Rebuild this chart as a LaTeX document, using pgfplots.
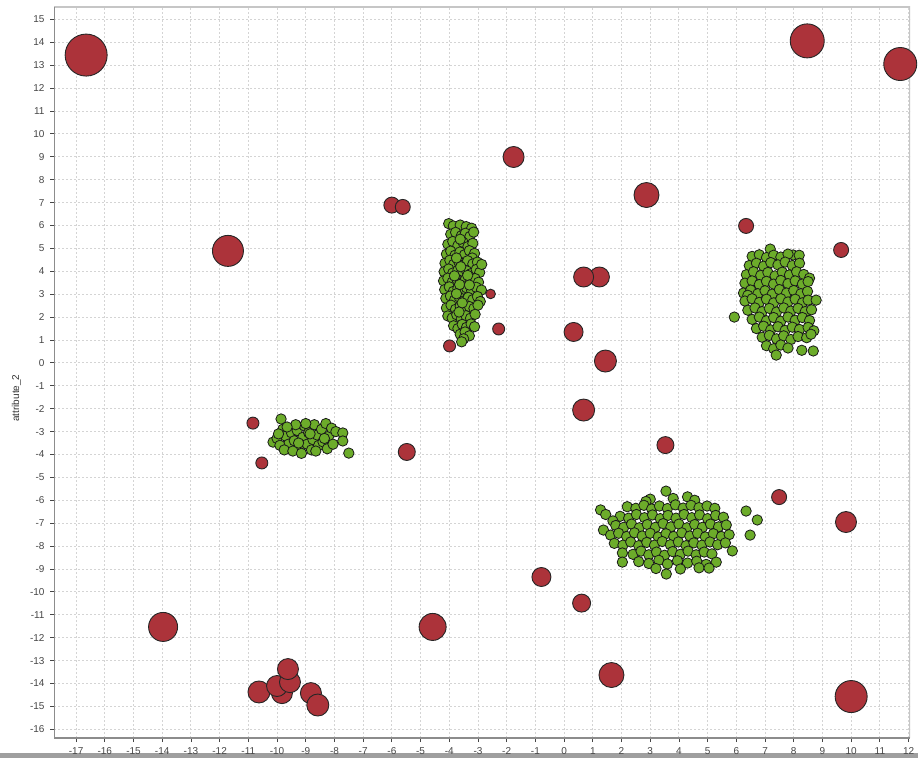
\documentclass[border=0pt]{standalone}
\usepackage{pgfplots}
\pgfplotsset{compat=1.18}
\usepackage{pgfplotstable}
\usepackage{fontspec}
\setmainfont{Liberation Sans}
\definecolor{redc}{RGB}{172,51,58}
\definecolor{greenc}{RGB}{108,172,42}
\definecolor{gridc}{RGB}{212,212,212}
\definecolor{tickc}{RGB}{70,70,70}

\pgfplotstableread{
x y r
-16.65 13.44 21
-11.71 4.89 15.5
-6.00 6.89 8
-5.62 6.81 7.5
-1.76 8.99 10.5
2.87 7.33 12.5
8.47 14.06 17
11.71 13.05 16.5
6.34 5.98 7.5
9.65 4.93 7.5
1.23 3.75 10
0.68 3.75 10
-2.56 3.01 4.8
-2.28 1.48 6
-3.99 0.74 6
0.33 1.35 9.5
1.44 0.08 11
0.68 -2.06 11
3.53 -3.59 8.5
-10.84 -2.63 6
-10.53 -4.37 6
-5.48 -3.89 8.5
7.49 -5.86 7.5
9.82 -6.95 10.5
-0.79 -9.35 9.5
0.61 -10.49 9
-4.58 -11.53 13.5
-13.97 -11.53 14.5
1.65 -13.63 12.5
10.00 -14.57 16
-10.63 -14.37 11
-9.83 -14.42 10.5
-10.00 -14.11 10.5
-9.55 -13.94 10.5
-9.62 -13.37 10.5
-8.82 -14.42 10.5
-8.58 -14.94 11
}\redtable

\pgfplotstableread{
x y
-4.02 6.08
-3.86 5.98
-3.62 6.02
-3.41 5.95
-3.22 5.88
-3.95 5.62
-3.78 5.70
-3.58 5.55
-3.44 5.66
-3.28 5.52
-3.15 5.71
-4.05 5.18
-3.88 5.30
-3.70 5.12
-3.52 5.26
-3.35 5.08
-3.18 5.22
-3.62 5.40
-4.10 4.75
-3.95 4.88
-3.80 4.70
-3.63 4.84
-3.47 4.72
-3.30 4.90
-3.12 4.78
-3.20 4.58
-4.15 4.35
-3.98 4.48
-3.85 4.30
-3.68 4.44
-3.50 4.28
-3.36 4.46
-3.18 4.32
-3.02 4.40
-3.75 4.58
-4.18 3.98
-4.02 4.10
-3.88 3.92
-3.70 4.05
-3.55 3.88
-3.40 4.02
-3.24 3.90
-3.06 4.08
-2.94 3.95
-3.60 4.20
-2.87 4.30
-4.20 3.58
-4.05 3.70
-3.90 3.52
-3.74 3.66
-3.58 3.50
-3.44 3.64
-3.28 3.55
-3.10 3.68
-2.98 3.52
-3.82 3.80
-3.36 3.82
-4.16 3.20
-4.00 3.32
-3.86 3.12
-3.70 3.26
-3.54 3.10
-3.40 3.28
-3.22 3.15
-3.06 3.30
-2.88 3.18
-3.64 3.42
-3.30 3.40
-4.12 2.82
-3.96 2.92
-3.82 2.74
-3.66 2.88
-3.50 2.70
-3.34 2.86
-3.18 2.76
-3.02 2.90
-2.92 2.68
-3.75 3.02
-4.10 2.40
-3.94 2.52
-3.78 2.34
-3.62 2.48
-3.46 2.30
-3.30 2.46
-3.14 2.38
-3.00 2.52
-3.55 2.62
-4.05 2.05
-3.90 1.96
-3.74 2.10
-3.58 1.92
-3.42 2.06
-3.26 1.95
-3.10 2.12
-3.66 2.22
-3.85 1.62
-3.70 1.50
-3.55 1.68
-3.40 1.55
-3.24 1.70
-3.12 1.58
-3.62 1.25
-3.45 1.35
-3.30 1.18
-3.50 1.05
-3.57 0.92
}\clusterA

\pgfplotstableread{
x y
7.18 4.97
7.98 4.71
8.19 4.70
6.55 4.65
6.80 4.72
7.05 4.60
7.30 4.70
7.55 4.62
7.80 4.75
6.45 4.25
6.70 4.35
6.95 4.22
7.20 4.38
7.45 4.28
7.70 4.40
7.95 4.25
8.20 4.35
6.35 3.85
6.60 3.98
6.85 3.82
7.10 3.95
7.35 3.80
7.60 3.96
7.85 3.84
8.10 3.98
8.35 3.86
8.55 3.70
6.30 3.48
6.55 3.58
6.80 3.42
7.05 3.56
7.30 3.44
7.55 3.60
7.80 3.46
8.05 3.58
8.30 3.44
8.50 3.55
6.25 3.05
6.50 3.18
6.75 3.02
7.00 3.15
7.25 3.00
7.50 3.20
7.75 3.05
8.00 3.16
8.25 3.02
8.48 3.12
6.40 2.95
6.30 2.70
6.55 2.80
6.80 2.64
7.05 2.78
7.30 2.62
7.55 2.80
7.80 2.66
8.05 2.78
8.30 2.62
8.50 2.74
8.78 2.74
6.40 2.30
6.65 2.40
6.90 2.24
7.15 2.38
7.40 2.22
7.65 2.40
7.90 2.26
8.15 2.38
8.40 2.24
8.62 2.32
6.55 1.90
6.80 2.00
7.05 1.84
7.30 1.98
7.55 1.82
7.80 2.00
8.05 1.86
8.30 1.98
8.55 1.85
6.70 1.50
6.95 1.60
7.20 1.44
7.45 1.58
7.70 1.42
7.95 1.56
8.20 1.46
8.50 1.55
8.70 1.40
6.90 1.12
7.15 1.20
7.40 1.05
7.65 1.18
7.90 1.02
8.15 1.15
8.45 1.10
8.60 1.25
7.05 0.75
7.30 0.62
7.55 0.78
7.80 0.65
8.28 0.55
8.68 0.52
7.39 0.34
5.93 2.00
}\clusterB

\pgfplotstableread{
x y
3.00 -5.95
3.55 -5.60
3.80 -5.92
4.30 -5.85
4.55 -6.00
2.85 -6.05
2.20 -6.28
2.50 -6.35
2.78 -6.22
3.05 -6.38
3.32 -6.25
3.60 -6.36
3.88 -6.20
4.15 -6.34
4.42 -6.22
4.70 -6.32
4.98 -6.25
5.25 -6.35
1.27 -6.42
1.45 -6.62
1.95 -6.70
2.25 -6.78
2.52 -6.62
2.80 -6.76
3.08 -6.64
3.35 -6.80
3.62 -6.66
3.90 -6.78
4.18 -6.62
4.45 -6.76
4.72 -6.64
5.00 -6.80
5.28 -6.66
5.55 -6.74
1.70 -6.90
1.80 -7.10
2.08 -7.18
2.35 -7.04
2.62 -7.20
2.90 -7.06
3.18 -7.18
3.45 -7.02
3.72 -7.16
4.00 -7.04
4.28 -7.20
4.55 -7.06
4.82 -7.18
5.10 -7.04
5.38 -7.16
5.65 -7.08
6.73 -6.86
6.34 -6.47
1.37 -7.30
1.62 -7.52
1.90 -7.44
2.18 -7.58
2.45 -7.42
2.72 -7.56
3.00 -7.44
3.28 -7.60
3.55 -7.46
3.82 -7.58
4.10 -7.42
4.38 -7.56
4.65 -7.44
4.92 -7.60
5.20 -7.46
5.48 -7.58
5.75 -7.50
6.48 -7.52
1.75 -7.88
2.05 -7.96
2.32 -7.82
2.60 -7.98
2.88 -7.84
3.15 -7.96
3.42 -7.80
3.70 -7.94
3.98 -7.82
4.25 -7.98
4.52 -7.86
4.80 -7.96
5.08 -7.82
5.35 -7.94
5.62 -7.86
2.03 -8.30
2.40 -8.36
2.68 -8.22
2.95 -8.38
3.22 -8.26
3.50 -8.40
3.78 -8.24
4.05 -8.36
4.32 -8.22
4.60 -8.38
4.88 -8.26
5.15 -8.34
5.86 -8.21
2.03 -8.70
2.60 -8.68
2.95 -8.76
3.30 -8.62
3.60 -8.78
3.95 -8.64
4.30 -8.74
4.62 -8.66
4.95 -8.80
5.30 -8.70
3.56 -9.22
3.20 -8.98
4.05 -9.00
4.70 -8.95
5.05 -8.96
}\clusterC

\pgfplotstableread{
x y
-10.14 -3.46
-10.00 -3.30
-9.86 -2.45
-9.80 -2.90
-9.70 -3.20
-9.60 -3.55
-9.90 -3.60
-9.50 -3.05
-9.40 -3.40
-9.30 -2.95
-9.20 -3.70
-9.10 -3.25
-9.05 -2.75
-8.95 -3.55
-8.90 -3.05
-8.80 -3.80
-8.75 -3.35
-8.70 -2.70
-8.60 -3.15
-8.55 -3.60
-8.45 -2.90
-8.40 -3.45
-8.30 -2.65
-8.25 -3.75
-8.20 -3.20
-8.10 -2.85
-8.05 -3.55
-7.95 -3.00
-9.75 -3.80
-9.45 -3.85
-9.25 -3.50
-9.00 -2.65
-8.65 -3.85
-8.35 -3.30
-9.35 -2.70
-9.65 -2.80
-7.71 -3.06
-7.71 -3.41
-7.50 -3.94
-9.95 -3.10
-8.85 -3.10
-9.15 -3.95
}\clusterD

\begin{document}
\begin{tikzpicture}
\useasboundingbox (0,0) rectangle (918pt,758pt);
\fill[white] (0,0) rectangle (918pt,758pt);
\fill[gray!75] (0,0) rectangle (918pt,5pt);
\begin{axis}[
  at={(54pt,20pt)}, anchor=south west,
  scale only axis, width=856pt, height=731pt,
  xmin=-17.77, xmax=12.05, ymin=-16.38, ymax=15.54,
  xtick={-17,...,12}, ytick={-16,...,15},
  grid=major,
  major grid style={draw=gridc, line width=0.9pt, dash pattern=on 1.6pt off 2.4pt},
  axis line style={draw=none},
  tick align=outside,
  major tick length=4pt,
  tick style={draw=tickc, line width=0.8pt},
  xtick pos=bottom, ytick pos=left,
  /pgf/number format/assume math mode=true,
  tick label style={font=\fontsize{10}{12}\selectfont, text=tickc},
  xticklabel style={yshift=-2pt},
  yticklabel style={xshift=-2pt},
  ylabel={attribute\_2},
  ylabel style={font=\fontsize{10}{12}\selectfont, text=black!80, at={(ticklabel cs:0.465)}, yshift=2pt},
  clip=true,
]
\addplot[only marks, mark=*, mark size=5.2pt, mark options={draw=black!90, fill=greenc, line width=0.8pt}] table {\clusterA};
\addplot[only marks, mark=*, mark size=5.2pt, mark options={draw=black!90, fill=greenc, line width=0.8pt}] table {\clusterB};
\addplot[only marks, mark=*, mark size=5.2pt, mark options={draw=black!90, fill=greenc, line width=0.8pt}] table {\clusterC};
\addplot[only marks, mark=*, mark size=5.2pt, mark options={draw=black!90, fill=greenc, line width=0.8pt}] table {\clusterD};
\addplot[scatter, only marks, mark=*, line width=0.9pt,
  scatter/use mapped color={draw=black!85, fill=redc},
  visualization depends on={\thisrow{r}\as\rr},
  scatter/@pre marker code/.append style={/tikz/mark size=\rr pt}]
  table[x=x, y=y] {\redtable};
\draw[draw=gray!45, line width=1.5pt] (rel axis cs:0,1) -- (rel axis cs:1,1) -- (rel axis cs:1,0);
\draw[draw=gray!90, line width=1.8pt] (rel axis cs:0,1) -- (rel axis cs:0,0) -- (rel axis cs:1,0);
\end{axis}
\end{tikzpicture}
\end{document}
